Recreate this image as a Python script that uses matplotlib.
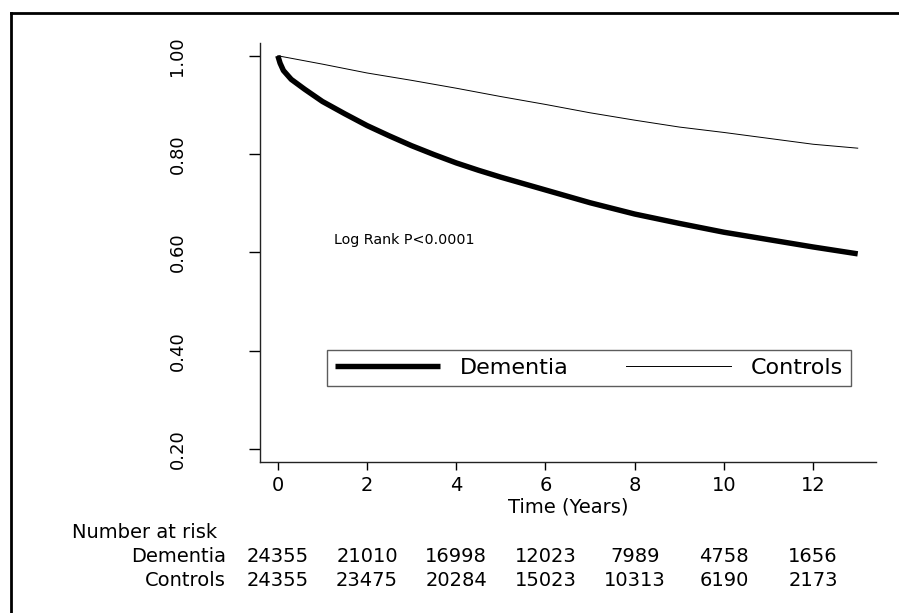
import matplotlib
matplotlib.use("Agg")
import matplotlib.pyplot as plt
from matplotlib.lines import Line2D
import matplotlib.transforms as mtransforms

plt.rcParams['font.family'] = ['DejaVu Sans']

# ---- data ----
dementia_t = [0, 0.05, 0.125, 0.3, 0.6, 1, 1.5, 2, 2.5, 3, 3.5, 4, 4.5, 5,
              6, 7, 8, 9, 10, 11, 12, 13]
dementia_s = [1.0, 0.985, 0.970, 0.952, 0.932, 0.907, 0.882, 0.858, 0.837, 0.817,
              0.799, 0.782, 0.767, 0.753, 0.727, 0.701, 0.678, 0.659, 0.641,
              0.626, 0.611, 0.597]
controls_t = [0, 1, 2, 3, 4, 5, 6, 7, 8, 9, 10, 11, 12, 13]
controls_s = [1.0, 0.983, 0.965, 0.950, 0.934, 0.917, 0.901, 0.884, 0.869,
              0.855, 0.844, 0.832, 0.820, 0.812]
risk_times = [0, 2, 4, 6, 8, 10, 12]
risk_dementia = [24355, 21010, 16998, 12023, 7989, 4758, 1656]
risk_controls = [24355, 23475, 20284, 15023, 10313, 6190, 2173]
yticks = [0.20, 0.40, 0.60, 0.80, 1.00]
xticks = [0, 2, 4, 6, 8, 10, 12]

FS = 14
W, H = 899, 613
fig = plt.figure(figsize=(W / 100, H / 100), dpi=100)
ax = fig.add_axes([260 / W, 1 - 462 / H, (876 - 260) / W, (462 - 43) / H])

ax.plot(dementia_t, dementia_s, color='black', lw=3.9, solid_capstyle='butt',
        solid_joinstyle='round', label='Dementia')
ax.plot(controls_t, controls_s, color='black', lw=0.7, label='Controls')

ax.set_xlim(-0.4, 13.41)
ax.set_ylim(0.1735, 1.026)
ax.set_xticks(xticks)
ax.set_yticks(yticks)
ax.set_yticklabels([f"{v:.2f}" for v in yticks], rotation=90, va='center')
ax.tick_params(axis='y', length=8, width=1, pad=45, labelsize=13)
ax.tick_params(axis='x', length=6, width=1, pad=4, labelsize=FS)
for s in ['top', 'right']:
    ax.spines[s].set_visible(False)
for s in ['left', 'bottom']:
    ax.spines[s].set_linewidth(1)
    ax.spines[s].set_color('#222222')
ax.set_xlabel('Time (Years)', fontsize=FS)
ax.xaxis.set_label_coords(0.5, (462 - 507) / 419)
ax.xaxis.label.set_va('center')

ax.text(1.25, 0.625, 'Log Rank P<0.0001', fontsize=10.3, ha='left', va='center')

leg = ax.legend(loc='center', bbox_to_anchor=(0.534, 0.224), ncol=2,
                fontsize=16, frameon=True, fancybox=False, handlelength=4.7,
                handletextpad=0.9, columnspacing=2.6, borderpad=0.35,
                borderaxespad=0)
leg.get_frame().set_edgecolor('#333333')
leg.get_frame().set_linewidth(1)

# number at risk table
trans = mtransforms.blended_transform_factory(ax.transData, fig.transFigure)
fig.text(72 / W, 1 - 533 / H, 'Number at risk', fontsize=FS, ha='left', va='center')
fig.text(226 / W, 1 - 557 / H, 'Dementia', fontsize=FS, ha='right', va='center')
fig.text(226 / W, 1 - 580 / H, 'Controls', fontsize=FS, ha='right', va='center')
for t, d, c in zip(risk_times, risk_dementia, risk_controls):
    ax.text(t, 1 - 557 / H, str(d), transform=trans, fontsize=FS,
            ha='center', va='center', clip_on=False)
    ax.text(t, 1 - 580 / H, str(c), transform=trans, fontsize=FS,
            ha='center', va='center', clip_on=False)

# outer border (top and left visible)
fig.add_artist(Line2D([11 / W, 1.0], [1 - 13 / H, 1 - 13 / H], color='black',
                      lw=2, transform=fig.transFigure))
fig.add_artist(Line2D([11 / W, 11 / W], [0, 1 - 13 / H], color='black',
                      lw=2, transform=fig.transFigure))

fig.savefig('out.png', dpi=100)
